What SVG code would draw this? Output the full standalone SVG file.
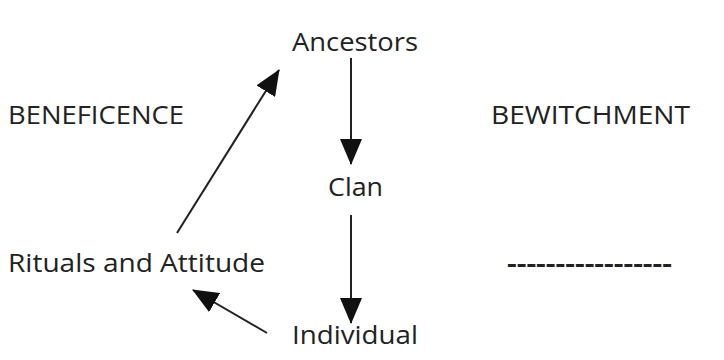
<svg xmlns="http://www.w3.org/2000/svg" width="724" height="360" viewBox="0 0 724 360">
<defs>
<style>
text{font-family:"Open Sans","Liberation Sans",sans-serif;font-size:25px;fill:#222}
.c line{stroke:#222;stroke-width:2}
</style>
<marker id="ah" viewBox="0 0 26 22" refX="25" refY="11" markerWidth="26" markerHeight="22" markerUnits="userSpaceOnUse" orient="auto">
<path d="M0,0 L26,11 L0,22 Z" fill="#111"/>
</marker>
</defs>
<rect width="724" height="360" fill="#fff"/>
<g id="ancestors"><text x="292" y="51" textLength="126" lengthAdjust="spacingAndGlyphs">Ancestors</text></g>
<g id="beneficence"><text x="8" y="124" textLength="176" lengthAdjust="spacingAndGlyphs">BENEFICENCE</text></g>
<g id="bewitchment"><text x="491" y="124" textLength="199" lengthAdjust="spacingAndGlyphs">BEWITCHMENT</text></g>
<g id="clan"><text x="328" y="196" textLength="55" lengthAdjust="spacingAndGlyphs">Clan</text></g>
<g id="rituals"><text x="8" y="272" textLength="257" lengthAdjust="spacingAndGlyphs">Rituals and Attitude</text></g>
<g id="dashes"><text x="507" y="272" textLength="165" lengthAdjust="spacingAndGlyphs" font-weight="bold">-----------------</text></g>
<g id="individual"><text x="292" y="344" textLength="126" lengthAdjust="spacingAndGlyphs">Individual</text></g>
<g class="c" id="connectors">
<line x1="351" y1="58" x2="351" y2="164" marker-end="url(#ah)"/>
<line x1="351" y1="215" x2="351" y2="323" marker-end="url(#ah)"/>
<line x1="267" y1="333" x2="193" y2="290" marker-end="url(#ah)"/>
<line x1="177" y1="233" x2="279" y2="70" marker-end="url(#ah)"/>
</g>
</svg>
